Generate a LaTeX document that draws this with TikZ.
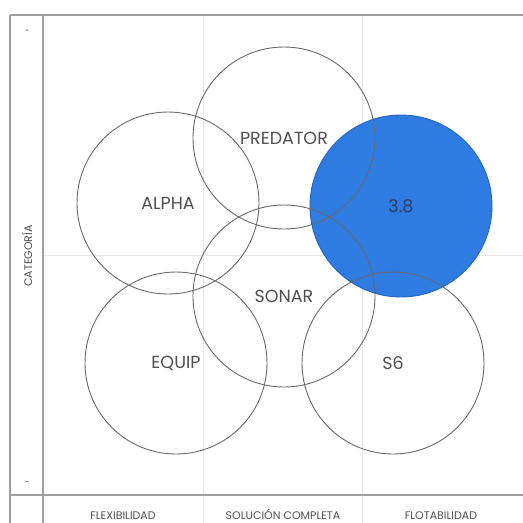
\documentclass[tikz,border=0pt]{standalone}
\usepackage{fontspec}
\setmainfont{Poppins}
\definecolor{frameg}{RGB}{160,160,160}
\definecolor{gridg}{RGB}{232,232,232}
\definecolor{ringg}{RGB}{105,105,105}
\definecolor{labelg}{RGB}{80,80,80}
\definecolor{bluefill}{RGB}{46,123,226}
\definecolor{blueedge}{RGB}{40,100,190}
\definecolor{bluetext}{RGB}{45,60,105}
\begin{document}
\begin{tikzpicture}[x=1pt,y=-1pt,
  ring/.style={circle,draw=ringg,line width=0.9pt,minimum size=182pt,inner sep=0pt,font=\fontsize{17.5}{18}\selectfont,text=labelg},
  framel/.style={draw=frameg,line width=1.4pt},
  gridl/.style={draw=gridg,line width=1pt},
  axlabel/.style={font=\fontsize{11}{11}\selectfont,text=labelg,inner sep=0pt}]
\useasboundingbox (0,0) rectangle (523,523);
\fill[white] (0,0) rectangle (523,523);
% grid
\draw[gridl] (203,15) -- (203,523);
\draw[gridl] (362,15) -- (362,523);
\draw[gridl] (43,255) -- (523,255);
% frame
\draw[framel] (10,15) -- (523,15);
\draw[framel] (10,495) -- (523,495);
\draw[framel] (10,15) -- (10,523);
\draw[framel] (43,15) -- (43,523);
% circles
\node[ring,fill=bluefill,draw=blueedge,text=bluetext] (c38) at (401,206) {3.8};
\node[ring] (alpha) at (168,203) {ALPHA};
\node[ring] (predator) at (284,138) {PREDATOR};
\node[ring] (sonar) at (284,296) {SONAR};
\node[ring] (equip) at (176,363) {EQUIP};
\node[ring] (s6) at (393,363) {S6};
% axis labels
\node[axlabel,rotate=90] (cat) at (27,256) {CATEGORÍA};
\node[circle,fill=frameg,inner sep=0pt,minimum size=2.5pt] (plus) at (27,30) {};
\draw[frameg,line width=1pt] (25,481) -- (29,481) coordinate (minus);
\node[axlabel,anchor=base] (flex) at (123,519) {FLEXIBILIDAD};
\node[axlabel,anchor=base] (sol) at (283,519) {SOLUCIÓN COMPLETA};
\node[axlabel,anchor=base] (flot) at (441,519) {FLOTABILIDAD};
\end{tikzpicture}
\end{document}
